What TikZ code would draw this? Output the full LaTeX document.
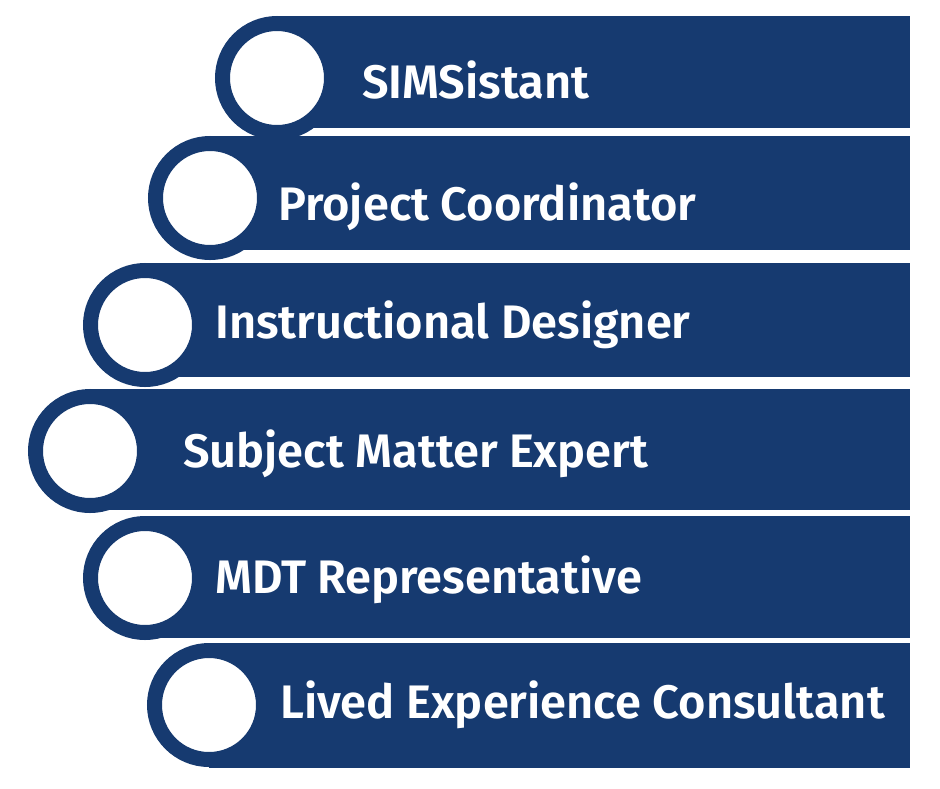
\documentclass[tikz,border=0pt]{standalone}
\usepackage{fontspec}
\setmainfont{Fira Sans}[BoldFont={Fira Sans SemiBold}]
\usetikzlibrary{positioning}
\definecolor{navy}{RGB}{22,58,112}

\begin{document}
\begin{tikzpicture}[x=1pt, y=-1pt]
	\tikzstyle{band} = [fill=navy]
	\tikzstyle{ring} = [circle, draw=navy, fill=white, line width=15pt, minimum size=109pt, inner sep=0pt]
	\tikzstyle{role} = [text=white, font=\bfseries\fontsize{47}{56}\selectfont, anchor=base west, inner sep=0pt]

	\useasboundingbox (0,0) rectangle (940,788);

	% bottom band first, so that each circle sits over the band below it
	\fill[band] (209,643) rectangle (910,768);
	\node[ring] (c6) at (209,705) {};
	\node[role] (lived) at (280,718) {Lived Experience Consultant};

	\fill[band] (145,516) rectangle (910,638);
	\node[ring] (c5) at (145,578) {};
	\node[role] (mdt) at (215,593) {MDT Representative};

	\fill[band] (90,389) rectangle (910,510);
	\node[ring] (c4) at (90,451) {};
	\node[role] (sme) at (183,467) {Subject Matter Expert};

	\fill[band] (145,263) rectangle (910,377);
	\node[ring] (c3) at (145,325) {};
	\node[role] (design) at (215,338) {Instructional Designer};

	\fill[band] (210,136) rectangle (910,250);
	\node[ring] (c2) at (210,198) {};
	\node[role] (coord) at (278,220) {Project Coordinator};

	\fill[band] (277,16) rectangle (910,128);
	\node[ring] (c1) at (277,78) {};
	\node[role] (sims) at (362,98) {SIMSistant};
\end{tikzpicture}
\end{document}
